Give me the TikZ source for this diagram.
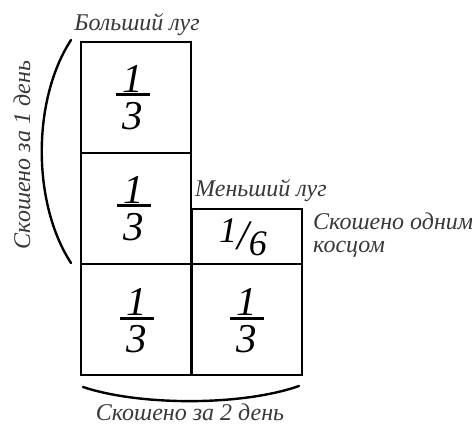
\documentclass[tikz,border=0pt]{standalone}
\usepackage{fontspec}
\setmainfont{Liberation Serif}
\begin{document}
\begin{tikzpicture}[x=1pt,y=-1pt,
  cell/.style={draw=black,line width=2pt,rectangle,inner sep=0pt,minimum width=110pt,minimum height=111pt},
  lbl/.style={text=black!78,font=\fontsize{24}{26}\selectfont\itshape,inner sep=0pt},
  frc/.style={font=\fontsize{41}{41}\selectfont\itshape,inner sep=0pt},
  brace/.style={line width=2.4pt,line cap=round}]
\useasboundingbox (0,0) rectangle (472,427);
\newcommand{\onethird}{\vbox{\hbox to 34pt{\hss 1\hss}\kern1pt\hrule height 3pt\kern6pt\hbox to 34pt{\hss 3\hss}}}
% cells
\node[cell] (a) at (136,97.5) {};
\node[cell] (b) at (136,208.5) {};
\node[cell] (c) at (136,319.5) {};
\node[cell] (d) at (246.5,319.5) {};
\node[cell,minimum height=55pt] (e) at (246.5,236.5) {};
% fractions
\node[frc] (fa) at (133,97.5) {\onethird};
\node[frc] (fb) at (134,208.5) {\onethird};
\node[frc] (fc) at (137,321) {\onethird};
\node[frc] (fd) at (246.5,321) {\onethird};
\node[frc,font=\fontsize{36}{36}\selectfont\itshape] (fe) at (243,237) {\raisebox{5pt}{1}\kern0pt\raisebox{-2pt}{\fontsize{42}{42}\selectfont /}\kern0pt\raisebox{-8pt}{6}};
% labels
\node[lbl,anchor=base] (l1) at (137,31) {Больший луг};
\node[lbl,anchor=base west] (l2) at (195,197) {Меньший луг};
\node[lbl,anchor=base west] (l3) at (313,230) {Скошено одним};
\node[lbl,anchor=base west] (l4) at (313,253) {косцом};
\node[lbl,anchor=base] (l5) at (190,421) {Скошено за 2 день};
\node[lbl,rotate=90] (l6) at (22,155) {Скошено за 1 день};
% braces
\coordinate (t1) at (71,40);
\coordinate (t2) at (71,263);
\coordinate (u1) at (83,387);
\coordinate (u2) at (299,386);
\draw[brace] (t1) .. controls (32,100) and (32,203) .. (t2);
\draw[brace] (u1) .. controls (140,406) and (242,406) .. (u2);
\end{tikzpicture}
\end{document}
